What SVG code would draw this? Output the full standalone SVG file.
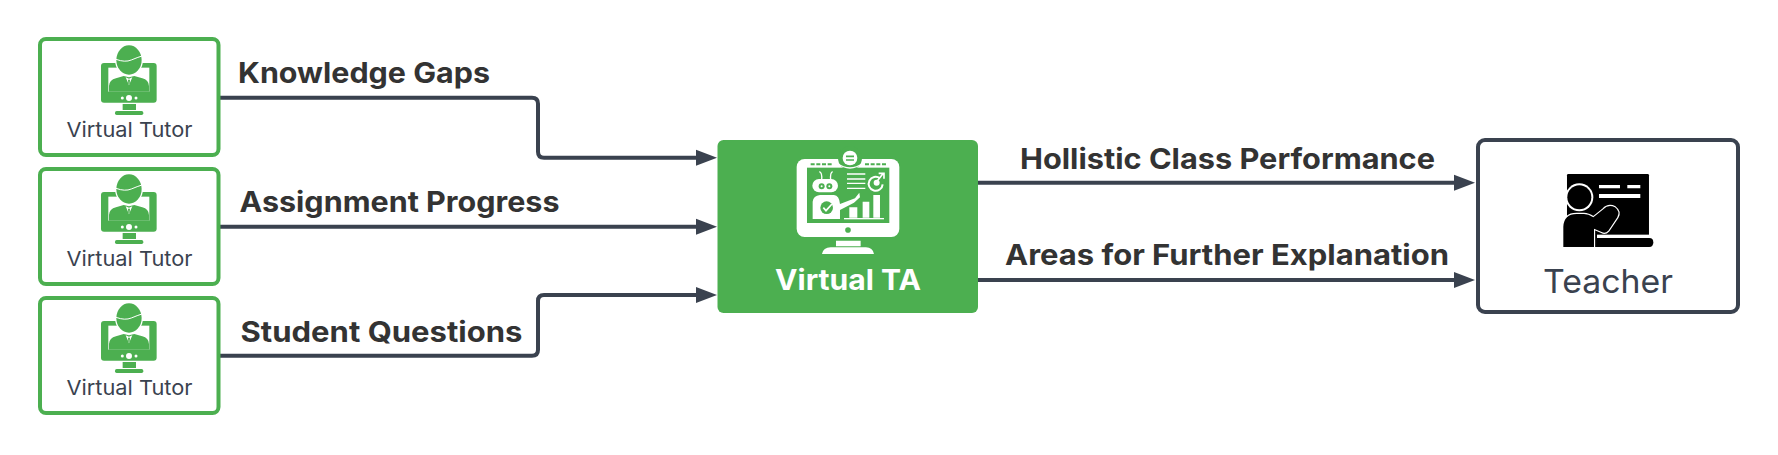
<svg xmlns="http://www.w3.org/2000/svg" xmlns:xlink="http://www.w3.org/1999/xlink" width="1778" height="455" viewBox="0 0 1778 455">
<style>
.conn{fill:none;stroke:#3a424f;stroke-width:4;stroke-linejoin:round}
.tbox{fill:#fff;stroke:#4caf50;stroke-width:4}
.lbl{font-family:"Inter","Liberation Sans",sans-serif;font-weight:700;font-size:28.500px;fill:#333}
.sub{font-family:"Inter","Liberation Sans",sans-serif;font-size:20.500px;fill:#3a424f}
</style>
<defs>
<marker id="ah" markerUnits="userSpaceOnUse" markerWidth="22" markerHeight="17" refX="11" refY="8.500" orient="auto"><path d="M0 0.500L21 8.500L0 16.500Z" fill="#3a424f"/></marker>
<g id="tutoricon">
<rect x="213" y="99" width="167" height="119" rx="9" fill="#4caf50"/>
<rect x="235" y="113" width="123" height="72" fill="#fff"/>
<ellipse cx="297" cy="90" rx="42" ry="48" fill="#fff"/>
<ellipse cx="297" cy="90" rx="38" ry="44" fill="#4caf50"/>
<path d="M258 88Q285 98 304 90T336 78" fill="none" stroke="#fff" stroke-width="3"/>
<path d="M237 185V168Q238 150 258 145L281 138L297 142L313 138L337 145Q356 150 357 168V185Z" fill="#4caf50"/>
<path d="M287 142L297 166L307 142L297 146Z" fill="#fff"/><path d="M294 149H300L299 160L297 164L295 160Z" fill="#4caf50"/>
<circle cx="297" cy="204" r="9" fill="#fff"/><circle cx="277" cy="204" r="4.500" fill="#fff"/><circle cx="318" cy="204" r="4.500" fill="#fff"/>
<rect x="278" y="222" width="40" height="18" fill="#4caf50"/><rect x="255" y="243" width="85" height="12" rx="5" fill="#4caf50"/>
</g>
</defs>
<g id="connectors">
<path class="conn" marker-end="url(#ah)" d="M220 97.700H532Q538 97.700 538 103.700V151.700Q538 157.700 544 157.700H707"/>
<path class="conn" marker-end="url(#ah)" d="M220 226.700H707"/>
<path class="conn" marker-end="url(#ah)" d="M220 355.700H532Q538 355.700 538 349.700V301Q538 295 544 295H707"/>
<path class="conn" marker-end="url(#ah)" d="M978 182.700H1465"/>
<path class="conn" marker-end="url(#ah)" d="M978 280H1465"/>
</g>
<g id="tutor1"><rect class="tbox" x="40" y="39" width="178.500" height="116" rx="6"/><use xlink:href="#tutoricon" href="#tutoricon" transform="translate(30 30) scale(.3333)"/><text class="sub" x="66.500" y="137" textLength="126" lengthAdjust="spacingAndGlyphs">Virtual Tutor</text></g>
<g id="tutor2"><rect class="tbox" x="40" y="169" width="178.500" height="115" rx="6"/><use xlink:href="#tutoricon" href="#tutoricon" transform="translate(30 159) scale(.3333)"/><text class="sub" x="66.500" y="266" textLength="126" lengthAdjust="spacingAndGlyphs">Virtual Tutor</text></g>
<g id="tutor3"><rect class="tbox" x="40" y="298" width="178.500" height="115" rx="6"/><use xlink:href="#tutoricon" href="#tutoricon" transform="translate(30 288) scale(.3333)"/><text class="sub" x="66.500" y="395" textLength="126" lengthAdjust="spacingAndGlyphs">Virtual Tutor</text></g>
<g id="virtual-ta">
<rect x="717.500" y="140" width="260.500" height="173" rx="6" fill="#4caf50"/>
<g transform="translate(710 130) scale(.3333)">
<rect x="260" y="87" width="308" height="234" rx="24" fill="#fff"/>
<rect x="291" y="113" width="247" height="166" fill="#4caf50"/>
<circle cx="414" cy="300" r="8.500" fill="#4caf50"/>
<circle cx="420" cy="84" r="36" fill="#4caf50"/><circle cx="420" cy="84" r="22" fill="#fff"/>
<path d="M381 100Q420 128 459 100" fill="none" stroke="#fff" stroke-width="4"/>
<path d="M408 79H432M408 90H432" stroke="#4caf50" stroke-width="5" fill="none"/>
<path d="M302 103H368M465 103H530" stroke="#4caf50" stroke-width="6" stroke-dasharray="12 5" fill="none"/>
<path d="M378 332H452V349H378ZM336 372Q340 352 362 352H468Q488 352 492 372Z" fill="#fff"/>
<path d="M335 150Q337 128 328 125M362 150Q360 128 368 125" stroke="#fff" stroke-width="4" fill="none"/>
<rect x="307" y="147" width="77" height="40" rx="20" fill="#fff"/>
<circle cx="335" cy="169" r="9" fill="#4caf50"/><circle cx="358" cy="169" r="9" fill="#4caf50"/>
<circle cx="335" cy="169" r="3" fill="#fff"/><circle cx="358" cy="169" r="3" fill="#fff"/>
<path d="M308 267V215Q310 197 330 195H372Q388 197 390 222L435 205L448 188L450 202L432 218L390 240V267Z" fill="#fff"/>
<circle cx="350" cy="233" r="19" fill="#4caf50"/>
<path d="M340 233L348 242L366 222" stroke="#fff" stroke-width="5" fill="none"/>
<path d="M411 132H466M411 147H466M411 160H466M411 175H466" stroke="#fff" stroke-width="4" fill="none"/>
<path d="M510 145A21 21 0 1 0 518 163" stroke="#fff" stroke-width="6" fill="none"/>
<circle cx="500" cy="158" r="9" fill="#fff"/><path d="M500 155L520 130M506 130H522V146" stroke="#fff" stroke-width="5" fill="none"/>
<path d="M418 232H442V263H418ZM458 215H478V263H458ZM490 195H510V263H490Z" fill="#fff"/>
<rect x="402" y="264" width="120" height="4" fill="#fff"/>
</g>
<text x="775" y="290" textLength="146" lengthAdjust="spacingAndGlyphs" font-family="Inter,'Liberation Sans',sans-serif" font-weight="700" font-size="28.500px" fill="#fff">Virtual TA</text>
</g>
<g id="teacher">
<rect x="1478" y="140" width="260" height="172" rx="7" fill="#fff" stroke="#3a424f" stroke-width="4"/>
<g transform="translate(1460 130) scale(.3333)">
<rect x="321" y="132" width="246" height="219" rx="4" fill="#000"/>
<rect x="411" y="314" width="170" height="46" fill="#fff"/>
<path d="M411 324H568Q580 324 580 337Q580 351 568 351H411Z" fill="#000"/>
<path d="M417 165H480V175H417ZM502 165H541V175H502ZM417 192H541V204H417Z" fill="#fff"/>
<circle cx="358" cy="202" r="42" fill="#fff"/><circle cx="358" cy="202" r="36" fill="#000"/>
<path d="M310 351V290Q312 252 350 252H372Q385 252 400 262L430 238Q445 222 465 232Q482 245 472 262L445 302Q436 312 425 306L402 296V351Z" fill="#000" stroke="#fff" stroke-width="7" paint-order="stroke"/>
<rect x="300" y="351" width="120" height="12" fill="#fff"/>
</g>
<text x="1543" y="293" textLength="130" lengthAdjust="spacingAndGlyphs" font-family="Inter,'Liberation Sans',sans-serif" font-size="33px" fill="#3a424f">Teacher</text>
</g>
<g id="labels">
<text class="lbl" x="238" y="83" textLength="252" lengthAdjust="spacingAndGlyphs">Knowledge Gaps</text>
<text class="lbl" x="239.500" y="212" textLength="320" lengthAdjust="spacingAndGlyphs">Assignment Progress</text>
<text class="lbl" x="240.500" y="341.500" textLength="282" lengthAdjust="spacingAndGlyphs">Student Questions</text>
<text class="lbl" x="1020" y="169.300" textLength="415" lengthAdjust="spacingAndGlyphs">Hollistic Class Performance</text>
<text class="lbl" x="1005" y="265" textLength="444" lengthAdjust="spacingAndGlyphs">Areas for Further Explanation</text>
</g>
</svg>
